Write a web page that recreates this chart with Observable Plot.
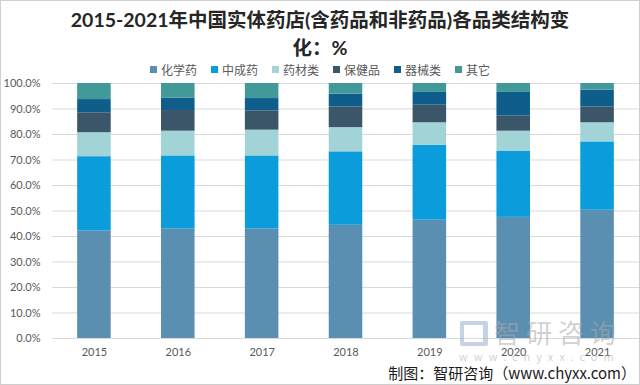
<!DOCTYPE html>
<html><head><meta charset="utf-8">
<script src="https://cdn.jsdelivr.net/npm/d3@7"></script>
<script src="https://cdn.jsdelivr.net/npm/@observablehq/plot@0.6"></script>
<style>
html,body{margin:0;padding:0;background:#fff;}
#wrap{position:relative;width:640px;height:385px;overflow:hidden;font-family:Lato,"Noto Sans CJK SC",sans-serif;}
#frame{position:absolute;left:0;top:0;width:640px;height:385px;box-sizing:border-box;border:1px solid #cfcfcf;pointer-events:none;}
#title{position:absolute;left:0;top:6px;width:640px;text-align:center;font-size:19.5px;font-weight:bold;line-height:28px;color:#262626;}
#legend{position:absolute;left:0;top:61px;width:640px;display:flex;justify-content:center;gap:14px;font-size:12px;color:#595959;font-family:"Noto Sans CJK SC",sans-serif;}
#legend span{display:flex;align-items:center;}
#legend i{display:inline-block;width:7px;height:7px;margin-right:4px;}
#chart{position:absolute;left:0;top:76px;}
#wm{position:absolute;left:458px;top:316px;width:170px;color:rgba(170,170,170,0.55);font-family:"Noto Sans CJK SC",sans-serif;pointer-events:none;}
#wm .big{font-size:26px;letter-spacing:6px;margin-left:36px;line-height:32px;white-space:nowrap;}
#wm .small{font-size:11px;letter-spacing:6px;margin-left:1px;line-height:13px;margin-top:2px;white-space:nowrap;}
#wm .logo{position:absolute;left:2px;top:5px;width:28px;height:25px;border:4px solid rgba(150,175,205,0.55);border-right-width:5px;border-radius:2px;box-sizing:border-box;}
#caption{position:absolute;right:4px;top:362px;font-size:15px;color:#1a1a1a;font-family:"Noto Sans CJK SC",sans-serif;}
</style></head>
<body>
<div id="wrap">
  <div id="title">2015-2021年中国实体药店(含药品和非药品)各品类结构变<br>化：%</div>
  <div id="legend"></div>
  <div id="chart"></div>
  <div id="wm"><div class="logo"></div><div class="big">智研咨询</div><div class="small">www.chyxx.com</div></div>
  <div id="caption">制图：智研咨询（www.chyxx.com）</div>
  <div id="frame"></div>
</div>
<script>
const years = ["2015","2016","2017","2018","2019","2020","2021"];
const categories = ["化学药","中成药","药材类","保健品","器械类","其它"];
const colors = ["#5a8fb1","#0b9cdb","#a2d4d7","#3b5569","#0f5d8a","#42999a"];
const chemical  = [42.2, 42.9, 43.0, 44.4, 46.4, 47.5, 50.3];
const patentTCM = [29.1, 28.7, 28.6, 28.8, 29.4, 26.0, 26.8];
const herbal    = [ 9.4,  9.7, 10.1,  9.5,  8.8,  7.8,  7.5];
const health    = [ 7.8,  8.1,  7.5,  8.1,  6.9,  5.9,  6.2];
const devices   = [ 5.2,  4.9,  4.9,  5.0,  5.0,  9.3,  6.6];
const others    = [ 6.3,  5.7,  5.9,  4.2,  3.5,  3.5,  2.6];
const yTicks = [0,10,20,30,40,50,60,70,80,90,100];

const series = [chemical, patentTCM, herbal, health, devices, others];
const data = [];
categories.forEach((c, i) => years.forEach((y, j) => data.push({year: y, cat: c, value: series[i][j]})));

const lg = document.getElementById("legend");
categories.forEach((c, i) => {
  const s = document.createElement("span");
  s.innerHTML = `<i style="background:${colors[i]}"></i>${c}`;
  lg.appendChild(s);
});

const chart = Plot.plot({
  width: 640, height: 290,
  marginTop: 7, marginBottom: 28, marginLeft: 52, marginRight: 1,
  style: {fontFamily: "Lato, 'Noto Sans CJK SC', sans-serif", fontSize: "11px", color: "#595959", overflow: "visible", background: "transparent"},
  x: {domain: years, paddingInner: 0.6, paddingOuter: 0.3, round: false, label: null, tickSize: 0, tickPadding: 10},
  y: {domain: [0, 100], ticks: yTicks, tickFormat: d => d.toFixed(1) + "%", label: null, tickSize: 0, tickPadding: 12},
  color: {domain: categories, range: colors},
  marks: [
    Plot.ruleY(yTicks, {stroke: "#d9d9d9", strokeWidth: 1}),
    Plot.barY(data, {x: "year", y: "value", fill: "cat", order: categories}),
    Plot.axisY({ticks: yTicks, tickFormat: d => d.toFixed(1) + "%", tickSize: 0, tickPadding: 12, label: null})
  ]
});
document.getElementById("chart").appendChild(chart);
</script>
</body></html>
